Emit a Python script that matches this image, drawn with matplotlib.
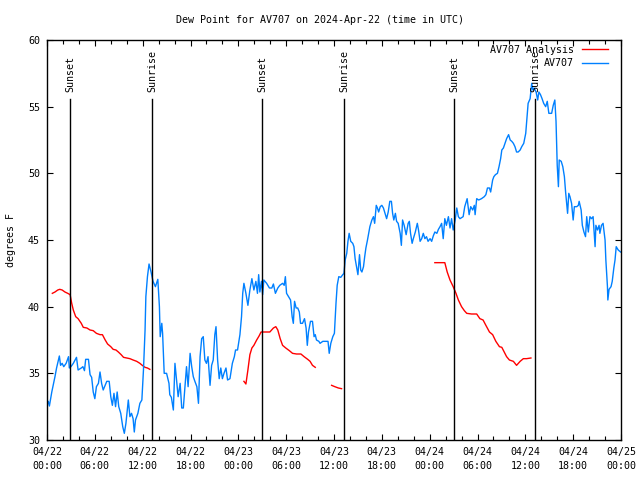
import matplotlib
matplotlib.use('Agg')
import matplotlib.pyplot as plt
import matplotlib.dates as mdates
import numpy as np
import pandas as pd

inicio = pd.Timestamp('2024-04-22 00:00')

# observaciones AV707 (horas desde inicio, grados F)
obs_horas = [0.0, 0.16, 0.3, 0.6, 1.0, 1.2, 1.55, 1.7, 1.9, 2.1, 2.4, 2.7, 2.8, 3.0, 3.3, 3.7, 3.9, 4.3, 4.5, 4.7,
             4.85, 5.2, 5.4, 5.6, 5.8, 6.0, 6.2, 6.45, 6.65, 6.85, 7.05, 7.3, 7.5, 7.8, 8.0, 8.2, 8.4, 8.6, 8.8, 9.0,
             9.25, 9.5, 9.7, 9.9, 10.2, 10.4, 10.6, 10.8, 10.95, 11.1, 11.4, 11.65, 11.9, 12.1, 12.3, 12.4, 12.6, 12.8,
             13.05, 13.3, 13.6, 13.9, 14.1, 14.2, 14.4, 14.5, 14.7, 15.0, 15.3, 15.4, 15.6, 15.85, 16.05, 16.25, 16.45,
             16.7, 16.9, 17.1, 17.3, 17.5, 17.7, 17.95, 18.15, 18.35, 18.55, 18.8, 19.0, 19.2, 19.4, 19.6, 19.8, 20.0,
             20.2, 20.45, 20.65, 20.85, 21.05, 21.2, 21.4, 21.6, 21.8, 22.0, 22.2, 22.45, 22.65, 22.95, 23.25, 23.5,
             23.65, 23.9, 24.2, 24.4, 24.55, 24.7, 24.95, 25.2, 25.45, 25.7, 25.95, 26.2, 26.4, 26.55, 26.7, 26.9,
             27.05, 27.2, 27.55, 27.9, 28.2, 28.4, 28.65, 28.95, 29.2, 29.55, 29.75, 29.9, 30.05, 30.3, 30.55, 30.75,
             30.9, 31.05, 31.25, 31.45, 31.65, 31.8, 32.05, 32.3, 32.5, 32.65, 32.8, 33.05, 33.3, 33.5, 33.65, 33.8,
             34.1, 34.25, 34.6, 35.0, 35.25, 35.4, 35.6, 35.85, 36.05, 36.25, 36.4, 36.6, 36.85, 37.1, 37.25, 37.4,
             37.6, 37.75, 37.9, 38.1, 38.35, 38.5, 38.65, 38.85, 39.0, 39.2, 39.35, 39.5, 39.7, 39.85, 40.0, 40.2,
             40.35, 40.5, 40.75, 40.95, 41.1, 41.3, 41.45, 41.6, 41.8, 42.0, 42.2, 42.4, 42.6, 42.8, 43.0, 43.2,
             43.35, 43.5, 43.7, 43.85, 44.05, 44.3, 44.45, 44.6, 44.8, 45.05, 45.3, 45.45, 45.6, 45.8, 45.95, 46.2,
             46.45, 46.6, 46.8, 47.0, 47.2, 47.4, 47.6, 47.8, 48.05, 48.25, 48.45, 48.65, 48.9, 49.1, 49.3, 49.5,
             49.7, 49.9, 50.1, 50.35, 50.55, 50.75, 50.95, 51.2, 51.4, 51.6, 51.8, 52.2, 52.4, 52.7, 52.95, 53.15,
             53.4, 53.6, 53.7, 53.9, 54.15, 54.5, 54.85, 55.05, 55.25, 55.5, 55.65, 55.9, 56.05, 56.25, 56.5, 56.7,
             56.9, 57.05, 57.25, 57.45, 57.65, 57.9, 58.1, 58.3, 58.5, 58.7, 58.9, 59.1, 59.35, 59.55, 59.8, 60.05,
             60.15, 60.35, 60.6, 60.8, 60.95, 61.1, 61.35, 61.55, 61.7, 61.9, 62.1, 62.3, 62.55, 62.75, 62.95, 63.3,
             63.5, 63.7, 63.85, 64.0, 64.15, 64.25, 64.5, 64.7, 64.9, 65.05, 65.2, 65.3, 65.45, 65.6, 65.8, 66.0,
             66.15, 66.45, 66.65, 66.75, 67.0, 67.15, 67.35, 67.55, 67.7, 67.9, 68.1, 68.3, 68.5, 68.75, 68.85,
             69.05, 69.25, 69.35, 69.55, 69.75, 70.0, 70.1, 70.3, 70.35, 70.5, 70.75, 70.9, 71.1, 71.25, 71.4,
             71.65, 71.95]
obs_valores = [32.6, 32.9, 32.55, 33.6, 34.75, 35.4, 36.3, 35.6, 35.75, 35.5, 35.75, 36.25, 35.4, 35.5, 35.75, 36.2,
               35.25, 35.4, 35.5, 35.2, 36.05, 36.05, 34.9, 34.7, 33.6, 33.1, 34.0, 34.25, 35.1, 34.25, 33.75, 34.1,
               34.4, 34.4, 33.25, 32.6, 33.5, 32.5, 33.6, 32.5, 32.0, 31.0, 30.5, 31.25, 33.0, 31.75, 32.0, 31.6,
               30.6, 31.5, 32.0, 32.75, 33.0, 35.25, 38.25, 40.75, 42.25, 43.2, 42.6, 41.9, 41.5, 42.05, 40.0, 37.75,
               38.75, 38.0, 35.0, 35.0, 34.25, 33.4, 33.2, 32.25, 35.75, 34.5, 33.25, 34.25, 32.4, 32.4, 34.0, 35.5,
               34.0, 36.5, 35.5, 34.75, 34.4, 34.0, 32.75, 36.25, 37.6, 37.75, 36.0, 35.75, 36.25, 34.1, 35.6, 36.0,
               37.9, 38.5, 36.0, 34.6, 35.4, 34.6, 35.0, 35.4, 34.5, 34.6, 35.75, 36.25, 36.75, 36.75, 37.9, 39.25,
               41.0, 41.75, 41.0, 40.1, 41.25, 42.1, 41.25, 41.9, 41.0, 42.4, 41.1, 41.9, 40.9, 42.0, 41.75, 41.4,
               41.4, 41.7, 41.0, 41.4, 41.6, 41.75, 41.6, 42.25, 41.0, 40.75, 40.5, 39.25, 38.75, 40.4, 39.9, 39.9,
               39.6, 38.75, 38.75, 39.1, 38.4, 37.1, 38.1, 38.9, 38.9, 37.75, 37.9, 37.5, 37.4, 37.25, 37.4, 37.4,
               37.4, 36.5, 37.25, 37.75, 38.0, 40.25, 41.6, 42.25, 42.2, 42.4, 42.5, 43.5, 44.0, 44.9, 45.5, 44.9,
               44.75, 44.5, 43.6, 42.9, 42.4, 43.9, 42.75, 42.6, 43.0, 43.75, 44.4, 45.0, 45.5, 46.0, 46.5, 46.75,
               46.25, 47.6, 47.4, 47.1, 47.5, 47.6, 47.4, 47.0, 46.6, 47.1, 47.9, 47.9, 47.0, 46.5, 47.0, 46.4,
               46.25, 45.5, 44.6, 46.5, 46.1, 45.4, 46.25, 46.4, 45.5, 44.75, 45.1, 45.6, 46.25, 45.75, 44.9, 45.1,
               45.5, 45.1, 45.25, 44.9, 45.1, 44.9, 45.3, 45.6, 45.5, 45.8, 46.0, 46.25, 45.1, 46.6, 46.1, 46.75,
               45.9, 46.6, 45.75, 46.5, 47.4, 46.75, 46.6, 46.75, 47.5, 48.1, 46.9, 47.5, 47.25, 47.6, 46.9, 48.1,
               48.0, 48.1, 48.25, 48.4, 48.9, 48.9, 48.6, 49.5, 49.75, 49.9, 50.0, 50.5, 51.1, 51.75, 51.9, 52.25,
               52.6, 52.9, 52.5, 52.4, 52.25, 52.0, 51.6, 51.6, 51.75, 52.0, 52.25, 53.0, 53.75, 55.25, 55.6, 56.75,
               56.25, 56.4, 56.1, 55.5, 56.1, 55.9, 55.6, 55.25, 55.0, 55.4, 54.5, 54.5, 55.1, 55.5, 53.9, 50.6,
               49.0, 51.0, 50.9, 50.5, 49.75, 48.6, 47.6, 47.0, 48.5, 48.25, 47.75, 46.5, 47.5, 47.5, 47.6, 47.9,
               47.25, 46.1, 45.6, 45.25, 46.75, 45.6, 46.75, 46.6, 46.75, 44.5, 46.1, 45.75, 46.1, 45.5, 46.1, 46.25,
               45.0, 43.5, 41.5, 40.5, 41.3, 41.5, 41.9, 42.9, 43.5, 44.5, 44.25, 44.1]

# analisis AV707 (None = hueco)
ana_horas = [0.67, 1.0, 1.35, 1.6, 1.9, 2.25, 2.6, 2.9, 3.1, 3.3, 3.6, 3.9, 4.3, 4.55, 5.0, 5.4, 5.8, 6.2, 6.65,
             6.95, 7.3, 7.6, 8.0, 8.3, 8.65, 8.95, 9.3, 9.6, 10.0, 10.4, 10.8, 11.25, 11.65, 11.95, 12.3, 12.6, 12.9,
             18.0,
             24.7, 24.95, 25.2, 25.45, 25.7, 25.95, 26.3, 26.6, 26.85, 27.55, 27.95, 28.4, 28.7, 28.95, 29.25, 29.55,
             29.95, 30.4, 30.8, 31.3, 31.85, 32.25, 32.7, 33.0, 33.3, 33.65,
             34.5,
             35.7, 36.1, 36.55, 36.95,
             42.0,
             48.65, 49.9, 50.2, 50.55, 50.95, 51.3, 51.6, 52.0, 52.35, 52.65, 53.25, 53.9, 54.3, 54.7, 55.05, 55.5,
             55.9, 56.3, 56.75, 57.05, 57.35, 57.65, 58.0, 58.5, 58.9, 59.35, 59.75, 60.15, 60.7]
ana_valores = [41.0, 41.1, 41.25, 41.3, 41.25, 41.1, 41.0, 40.9, 40.25, 39.75, 39.25, 39.1, 38.75, 38.45, 38.4, 38.25,
               38.2, 38.0, 37.9, 37.9, 37.5, 37.2, 37.0, 36.8, 36.75, 36.6, 36.4, 36.2, 36.15, 36.1, 36.0, 35.9,
               35.75, 35.6, 35.45, 35.4, 35.3,
               None,
               34.4, 34.2, 35.25, 36.4, 36.9, 37.1, 37.5, 37.8, 38.1, 38.1, 38.1, 38.4, 38.5, 38.25, 37.6, 37.1,
               36.9, 36.7, 36.5, 36.45, 36.45, 36.25, 36.05, 35.9, 35.6, 35.45,
               None,
               34.1, 34.0, 33.9, 33.85,
               None,
               43.3, 43.3, 42.6, 42.0, 41.5, 41.0, 40.5, 40.0, 39.7, 39.5, 39.45, 39.45, 39.1, 39.0, 38.6, 38.1,
               37.9, 37.4, 37.0, 36.95, 36.6, 36.25, 36.0, 35.9, 35.6, 35.9, 36.1, 36.1, 36.15]

# salida y puesta del sol (horas desde inicio)
sol_horas = [2.92, 13.21, 27.0, 37.29, 51.09, 61.25]
sol_nombres = ['Sunset', 'Sunrise', 'Sunset', 'Sunrise', 'Sunset', 'Sunrise']

fuente = 'DejaVu Sans Mono'
plt.rcParams['font.family'] = fuente
plt.rcParams['font.size'] = 7.2

def a_fecha(horas):
    return inicio + pd.to_timedelta(horas, unit='h')

fig = plt.figure(figsize=(6.4, 4.8), dpi=100)
ax = fig.add_axes([47 / 640, 40 / 480, 574 / 640, 400 / 480])

ana_y = np.array([np.nan if v is None else v for v in ana_valores])
ax.plot(a_fecha(ana_horas), ana_y, color='#ff0000', lw=1.0, label='AV707 Analysis')
ax.plot(a_fecha(obs_horas), obs_valores, color='#0080ff', lw=1.0, label='AV707')

for h, nombre in zip(sol_horas, sol_nombres):
    t = a_fecha(h)
    ax.axvline(t, ymin=0, ymax=0.8525, color='black', lw=1.0)
    ax.text(t, 0.87, nombre, transform=ax.get_xaxis_transform(), rotation=90,
            ha='center', va='bottom', fontsize=7.2)

ax.set_xlim(inicio, inicio + pd.Timedelta(hours=72))
ax.set_ylim(30, 60)
ax.set_yticks(range(30, 61, 5))
ax.xaxis.set_major_locator(mdates.HourLocator(byhour=[0, 6, 12, 18]))
ax.xaxis.set_minor_locator(mdates.HourLocator(byhour=range(0, 24, 2)))
ax.xaxis.set_major_formatter(mdates.DateFormatter('%m/%d\n%H:%M'))
ax.tick_params(which='both', direction='in', top=True, right=True, width=0.8)
ax.tick_params(which='major', length=4.5, pad=5)
ax.tick_params(which='minor', length=3)
for lab in ax.get_xticklabels():
    lab.set_linespacing(1.5)
for s in ax.spines.values():
    s.set_linewidth(1.0)

ax.set_ylabel('degrees F', labelpad=9)
fig.text(0.5, 1 - 20 / 480, 'Dew Point for AV707 on 2024-Apr-22 (time in UTC)',
         ha='center', va='center', fontsize=7.2)

ax.legend(loc='upper right', bbox_to_anchor=(0.984, 0.9975), frameon=False, markerfirst=False,
          handlelength=2.6, borderaxespad=0, handletextpad=0.8, labelspacing=0.35, fontsize=7.2)

plt.savefig('out.png', dpi=100)
